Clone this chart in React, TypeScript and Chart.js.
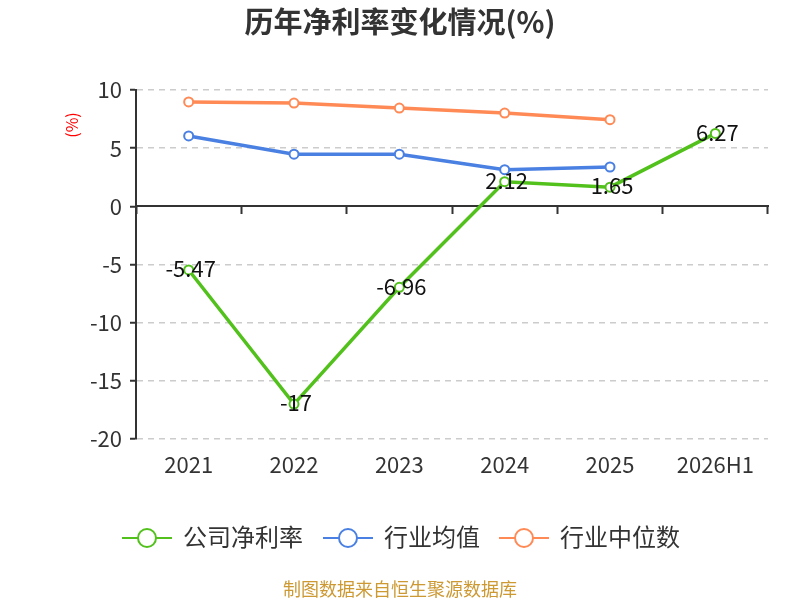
import React, { useEffect, useRef } from 'react'
import { Chart, registerables } from 'chart.js'

Chart.register(...registerables)

// 年份与三条序列
const years = ['2021', '2022', '2023', '2024', '2025', '2026H1']
const companyRate = [-5.47, -17, -6.96, 2.12, 1.65, 6.27]
const industryAvg = [6.05, 4.48, 4.48, 3.15, 3.38, null]
const industryMedian = [8.97, 8.88, 8.45, 8.02, 7.45, null]
const seriesNames = ['公司净利率', '行业均值', '行业中位数']
const seriesColors = ['#52c11c', '#4a80e2', '#ff8a56']

const FONT = '"Noto Sans CJK SC", "Noto Sans", sans-serif'

// 标题、纵轴单位、图例、数据标签、来源说明
const decorPlugin = {
  id: 'decor',
  afterDraw (chart: any) {
    const { ctx } = chart
    ctx.save()
    ctx.fillStyle = '#333'
    ctx.font = `bold 29px ${FONT}`
    ctx.textAlign = 'center'
    ctx.textBaseline = 'middle'
    ctx.fillText('历年净利率变化情况(%)', 400, 22)

    // (%)
    ctx.save()
    ctx.translate(72, 125)
    ctx.rotate(-Math.PI / 2)
    ctx.fillStyle = '#ff0000'
    ctx.font = `16px ${FONT}`
    ctx.fillText('(%)', 0, 0)
    ctx.restore()

    // 数据标签
    const meta = chart.getDatasetMeta(0)
    ctx.fillStyle = '#111'
    ctx.font = `22px ${FONT}`
    meta.data.forEach((pt: any, i: number) => {
      const v = companyRate[i]
      if (v == null) return
      ctx.fillText(String(v), pt.x + 2, pt.y - 1)
    })

    // 图例
    const legendX = [122, 323, 499]
    ctx.font = `24px ${FONT}`
    ctx.textAlign = 'left'
    seriesNames.forEach((name, i) => {
      const x = legendX[i]
      const y = 538
      ctx.strokeStyle = seriesColors[i]
      ctx.lineWidth = 2
      ctx.beginPath()
      ctx.moveTo(x, y)
      ctx.lineTo(x + 50, y)
      ctx.stroke()
      ctx.beginPath()
      ctx.arc(x + 25, y, 9, 0, Math.PI * 2)
      ctx.fillStyle = '#fff'
      ctx.fill()
      ctx.stroke()
      ctx.fillStyle = '#333'
      ctx.fillText(name, x + 61, y - 1)
    })

    ctx.fillStyle = '#cc9933'
    ctx.font = `18px ${FONT}`
    ctx.textAlign = 'center'
    ctx.fillText('制图数据来自恒生聚源数据库', 400, 589)
    ctx.restore()
  }
}

export default function App () {
  const canvasRef = useRef<HTMLCanvasElement>(null)
  const chartRef = useRef<Chart | null>(null)

  useEffect(() => {
    if (chartRef.current) chartRef.current.destroy()
    if (!canvasRef.current) return

    const mkSet = (label: string, data: any[], color: string) => ({
      label,
      data,
      borderColor: color,
      backgroundColor: '#fff',
      borderWidth: 3.5,
      pointRadius: 4.5,
      pointBorderWidth: 2,
      pointBackgroundColor: '#fff',
      pointBorderColor: color,
      tension: 0,
      spanGaps: false
    })

    chartRef.current = new Chart(canvasRef.current, {
      type: 'line',
      data: {
        labels: years,
        datasets: [
          mkSet(seriesNames[0], companyRate, seriesColors[0]),
          mkSet(seriesNames[1], industryAvg, seriesColors[1]),
          mkSet(seriesNames[2], industryMedian, seriesColors[2])
        ]
      },
      options: {
        animation: false,
        responsive: false,
        devicePixelRatio: 1,
        layout: { padding: { top: 90, right: 32, left: 0, bottom: 0 } },
        plugins: {
          legend: { display: false },
          title: { display: false },
          tooltip: { enabled: false }
        },
        scales: {
          x: {
            type: 'category',
            position: 'bottom',
            offset: true,
            grid: { display: false, drawTicks: false },
            border: { display: false },
            ticks: {
              color: '#333',
              font: { size: 22, family: FONT },
              padding: 12,
              maxRotation: 0,
              autoSkip: false
            },
            afterFit: (s: any) => { s.height = 161 }
          },
          x2: {
            type: 'category',
            position: { y: 0 },
            offset: true,
            grid: {
              offset: true,
              drawOnChartArea: false,
              drawTicks: true,
              tickLength: 7,
              tickColor: '#333',
              tickWidth: 2
            },
            border: { display: true, color: '#333', width: 2 },
            ticks: { display: false }
          },
          y: {
            min: -20,
            max: 10,
            ticks: {
              stepSize: 5,
              color: '#333',
              font: { size: 22, family: FONT },
              padding: 8
            },
            grid: {
              color: (c: any) => (c.tick && c.tick.value === 0 ? 'rgba(0,0,0,0)' : '#cccccc'),
              lineWidth: 1.5,
              tickLength: 6,
              tickColor: '#333',
              tickWidth: 2
            },
            border: { display: true, color: '#333', width: 2, dash: [6, 5] },
            afterFit: (s: any) => { s.width = 136 }
          }
        }
      },
      plugins: [decorPlugin]
    } as any)

    return () => {
      if (chartRef.current) {
        chartRef.current.destroy()
        chartRef.current = null
      }
    }
  }, [])

  return (
    <div style={{ position: 'fixed', left: 0, top: 0, width: 800, height: 600, background: '#fff' }}>
      <canvas ref={canvasRef} width={800} height={600} style={{ width: 800, height: 600 }} />
    </div>
  )
}
